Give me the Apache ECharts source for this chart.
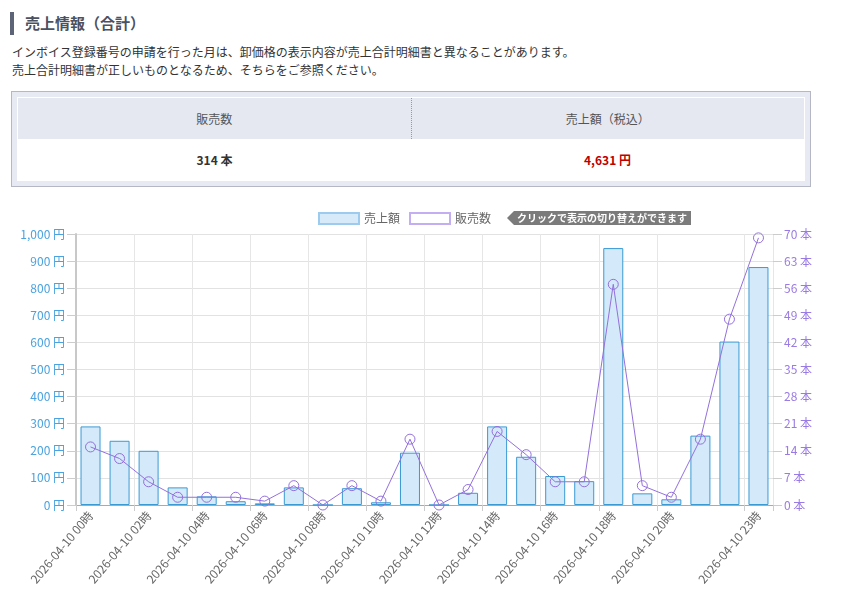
<!DOCTYPE html>
<html>
<head>
<meta charset="utf-8">
<script src="https://cdn.jsdelivr.net/npm/echarts@6/dist/echarts.min.js"></script>
<style>
  html,body{margin:0;padding:0;background:#fff;width:857px;height:611px;overflow:hidden;font-family:"Noto Sans CJK JP","Noto Sans",sans-serif;}
  #hbar{position:absolute;left:10px;top:12px;width:4px;height:23px;background:#5d6478;}
  #htxt{position:absolute;left:25px;top:11px;line-height:23px;font-size:15px;font-weight:bold;color:#4b5160;}
  #desc{position:absolute;left:12px;top:43px;font-size:12px;line-height:18px;color:#333;}
  #box{position:absolute;left:11px;top:91px;width:788px;height:84px;border:1px solid #b5b8c4;background:#e8eaf3;padding:5px;}
  #box table{width:100%;border-collapse:collapse;table-layout:fixed;background:#fff;border:1px solid #fff;}
  #box th{height:41px;background:#e5e7f1;font-weight:normal;font-size:12px;color:#555;padding:0;}
  #box th.c1{border-right:1px dotted #999;}
  #box td{height:41px;text-align:center;font-size:12px;font-weight:bold;color:#333;padding:0;}
  #box td.red{color:#c00000;}
  #chart{position:absolute;left:0;top:200px;width:857px;height:411px;}
  #tag{position:absolute;left:514px;top:211px;height:14px;line-height:14px;padding:0 4px 0 3px;background:#7b7b7b;color:#fff;font-size:10px;font-weight:bold;white-space:nowrap;}
  #tag:before{content:"";position:absolute;left:-7px;top:0;border-top:7px solid transparent;border-bottom:7px solid transparent;border-right:7px solid #7b7b7b;}
</style>
</head>
<body>
<div id="hbar"></div>
<div id="htxt">売上情報（合計）</div>
<div id="desc">インボイス登録番号の申請を行った月は、卸価格の表示内容が売上合計明細書と異なることがあります。<br>売上合計明細書が正しいものとなるため、そちらをご参照ください。</div>
<div id="box">
  <table>
    <tr><th class="c1">販売数</th><th>売上額（税込）</th></tr>
    <tr><td>314 本</td><td class="red">4,631 円</td></tr>
  </table>
</div>
<div id="chart"></div>
<div id="tag">クリックで表示の切り替えができます</div>
<script>
const hours = [
  '2026-04-10 00時','2026-04-10 01時','2026-04-10 02時','2026-04-10 03時',
  '2026-04-10 04時','2026-04-10 05時','2026-04-10 06時','2026-04-10 07時',
  '2026-04-10 08時','2026-04-10 09時','2026-04-10 10時','2026-04-10 11時',
  '2026-04-10 12時','2026-04-10 13時','2026-04-10 14時','2026-04-10 15時',
  '2026-04-10 16時','2026-04-10 17時','2026-04-10 18時','2026-04-10 19時',
  '2026-04-10 20時','2026-04-10 21時','2026-04-10 22時','2026-04-10 23時'
];
const salesYen = [290,237,200,65,32,14,6,65,0,62,10,193,0,45,290,178,107,88,948,43,21,256,603,878];
const unitsSold = [15,12,6,2,2,2,1,5,0,5,1,17,0,4,19,13,6,6,57,5,2,17,48,69];
const shownHourIdx = [0,2,4,6,8,10,12,14,16,18,20,23];

const FONT = '"Noto Sans CJK JP","Noto Sans",sans-serif';
const showIdx = (i) => shownHourIdx.indexOf(i) >= 0;

const chart = echarts.init(document.getElementById('chart'));
chart.setOption({
  animation: false,
  textStyle: {fontFamily: FONT},
  legend: {
    left: 313, top: 7,
    itemWidth: 40, itemHeight: 11, itemGap: 9,
    textStyle: {fontSize: 12, color: '#666', fontFamily: FONT},
    data: [
      {name: '売上額', icon: 'rect', itemStyle: {color: '#d6eafa', borderColor: '#9ccbee', borderWidth: 2}},
      {name: '販売数', icon: 'rect', itemStyle: {color: '#fff', borderColor: '#c4aef2', borderWidth: 2}}
    ]
  },
  grid: {left: 76, right: 84, top: 34, bottom: 106},
  xAxis: {
    type: 'category',
    data: hours,
    boundaryGap: true,
    axisLine: {lineStyle: {color: '#aaa'}},
    axisTick: {show: true, interval: (i) => showIdx(i), length: 6, lineStyle: {color: '#ccc'}},
    splitLine: {show: true, interval: (i) => showIdx(i), lineStyle: {color: '#e6e6e6'}},
    axisLabel: {interval: (i) => showIdx(i), rotate: 50, color: '#666', fontSize: 12, margin: 8, fontFamily: FONT}
  },
  yAxis: [
    {
      type: 'value', min: 0, max: 1000, interval: 100,
      axisLine: {show: true, lineStyle: {color: '#c8c8c8', width: 2}},
      axisTick: {show: true, length: 9, lineStyle: {color: '#ccc'}},
      splitLine: {lineStyle: {color: '#e2e2e2'}},
      axisLabel: {color: '#4aa3df', fontSize: 12, margin: 11, fontFamily: FONT,
        formatter: (v) => v.toLocaleString('en-US') + ' 円'}
    },
    {
      type: 'value', min: 0, max: 70, interval: 7,
      axisLine: {show: false},
      axisTick: {show: true, length: 9, lineStyle: {color: '#ccc'}},
      splitLine: {show: false},
      axisLabel: {color: '#9a7be5', fontSize: 12, margin: 11, fontFamily: FONT,
        formatter: (v) => v + ' 本'}
    }
  ],
  series: [
    {
      name: '売上額', type: 'bar', yAxisIndex: 0, data: salesYen,
      barWidth: 20,
      itemStyle: {color: '#d4e9f9', borderColor: '#3a9ad4', borderWidth: 1}
    },
    {
      name: '販売数', type: 'line', yAxisIndex: 1, data: unitsSold,
      symbol: 'circle', symbolSize: 10, z: 5,
      lineStyle: {color: '#9370db', width: 1},
      itemStyle: {color: 'rgba(255,255,255,0)', borderColor: '#9370db', borderWidth: 1}
    }
  ]
});
</script>
</body>
</html>
